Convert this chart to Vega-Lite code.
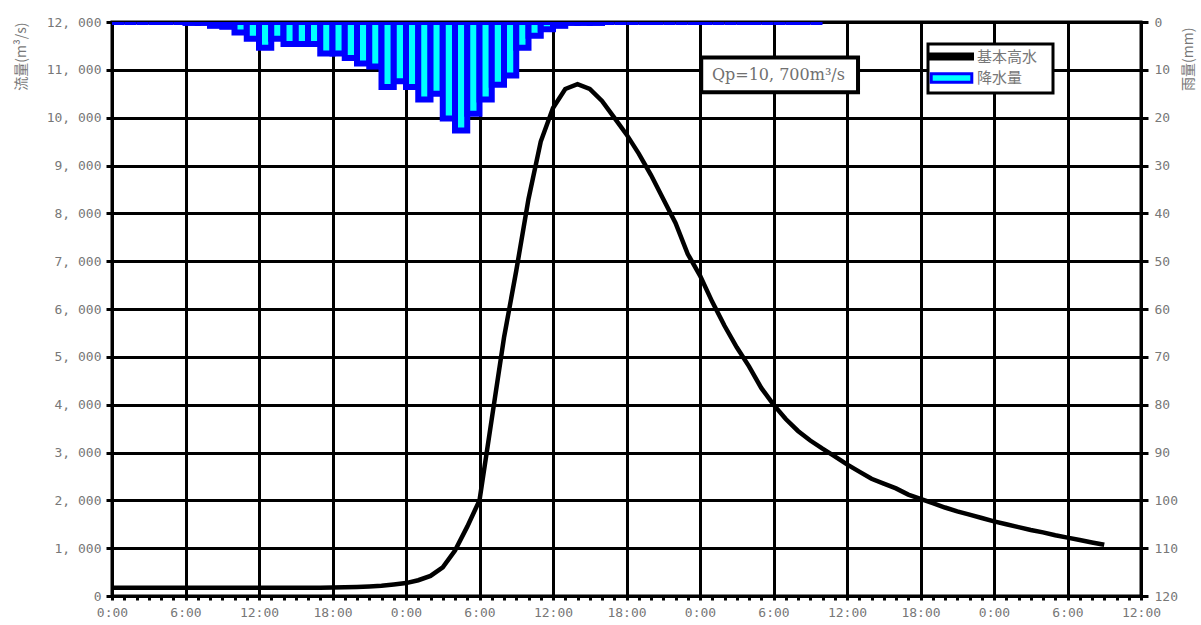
{
  "$schema": "https://vega.github.io/schema/vega-lite/v6.json",
  "width": 1029,
  "height": 574,
  "padding": {"left": 112, "top": 22, "right": 60, "bottom": 29},
  "autosize": {"type": "none"},
  "background": "white",
  "config": {
    "view": {"stroke": "black", "strokeWidth": 3},
    "axis": {"labelFont": "DejaVu Sans Mono", "labelFontSize": 13, "labelColor": "#777777", "titleFont": "Noto Sans CJK JP", "titleFontSize": 14, "titleFontWeight": "normal", "titleColor": "#777777", "domainColor": "black", "domainWidth": 3, "tickColor": "black", "tickWidth": 3}
  },
  "datasets": {
    "rain": [
      {"t0": 0, "t1": 1, "rain": 0}, {"t0": 1, "t1": 2, "rain": 0}, {"t0": 2, "t1": 3, "rain": 0}, {"t0": 3, "t1": 4, "rain": 0},
      {"t0": 4, "t1": 5, "rain": 0}, {"t0": 5, "t1": 6, "rain": 0}, {"t0": 6, "t1": 7, "rain": 0.2}, {"t0": 7, "t1": 8, "rain": 0.2},
      {"t0": 8, "t1": 9, "rain": 0.8}, {"t0": 9, "t1": 10, "rain": 1.0}, {"t0": 10, "t1": 11, "rain": 2.2}, {"t0": 11, "t1": 12, "rain": 3.5},
      {"t0": 12, "t1": 13, "rain": 5.4}, {"t0": 13, "t1": 14, "rain": 3.5}, {"t0": 14, "t1": 15, "rain": 4.6}, {"t0": 15, "t1": 16, "rain": 4.6},
      {"t0": 16, "t1": 17, "rain": 4.6}, {"t0": 17, "t1": 18, "rain": 6.6}, {"t0": 18, "t1": 19, "rain": 6.6}, {"t0": 19, "t1": 20, "rain": 7.5},
      {"t0": 20, "t1": 21, "rain": 8.7}, {"t0": 21, "t1": 22, "rain": 9.3}, {"t0": 22, "t1": 23, "rain": 13.6}, {"t0": 23, "t1": 24, "rain": 12.4},
      {"t0": 24, "t1": 25, "rain": 13.6}, {"t0": 25, "t1": 26, "rain": 16.2}, {"t0": 26, "t1": 27, "rain": 15.0}, {"t0": 27, "t1": 28, "rain": 20.2},
      {"t0": 28, "t1": 29, "rain": 22.7}, {"t0": 29, "t1": 30, "rain": 19.2}, {"t0": 30, "t1": 31, "rain": 16.2}, {"t0": 31, "t1": 32, "rain": 13.1},
      {"t0": 32, "t1": 33, "rain": 11.2}, {"t0": 33, "t1": 34, "rain": 5.4}, {"t0": 34, "t1": 35, "rain": 2.9}, {"t0": 35, "t1": 36, "rain": 1.5},
      {"t0": 36, "t1": 37, "rain": 0.8}, {"t0": 37, "t1": 38, "rain": 0.2}, {"t0": 38, "t1": 39, "rain": 0.2}, {"t0": 39, "t1": 40, "rain": 0.2},
      {"t0": 40, "t1": 41, "rain": 0}, {"t0": 41, "t1": 42, "rain": 0}, {"t0": 42, "t1": 43, "rain": 0}, {"t0": 43, "t1": 44, "rain": 0},
      {"t0": 44, "t1": 45, "rain": 0}, {"t0": 45, "t1": 46, "rain": 0}, {"t0": 46, "t1": 47, "rain": 0}, {"t0": 47, "t1": 48, "rain": 0},
      {"t0": 48, "t1": 49, "rain": 0}, {"t0": 49, "t1": 50, "rain": 0}, {"t0": 50, "t1": 51, "rain": 0}, {"t0": 51, "t1": 52, "rain": 0},
      {"t0": 52, "t1": 53, "rain": 0}, {"t0": 53, "t1": 54, "rain": 0}, {"t0": 54, "t1": 55, "rain": 0}, {"t0": 55, "t1": 56, "rain": 0},
      {"t0": 56, "t1": 57, "rain": 0}, {"t0": 57, "t1": 58, "rain": 0}
    ],
    "flow": [
      {"t": 0, "q": 170}, {"t": 1, "q": 170}, {"t": 2, "q": 170}, {"t": 3, "q": 170}, {"t": 4, "q": 170}, {"t": 5, "q": 170},
      {"t": 6, "q": 170}, {"t": 7, "q": 170}, {"t": 8, "q": 170}, {"t": 9, "q": 170}, {"t": 10, "q": 170}, {"t": 11, "q": 170},
      {"t": 12, "q": 170}, {"t": 13, "q": 170}, {"t": 14, "q": 170}, {"t": 15, "q": 170}, {"t": 16, "q": 170}, {"t": 17, "q": 175},
      {"t": 18, "q": 180}, {"t": 19, "q": 185}, {"t": 20, "q": 190}, {"t": 21, "q": 200}, {"t": 22, "q": 215}, {"t": 23, "q": 240},
      {"t": 24, "q": 270}, {"t": 25, "q": 330}, {"t": 26, "q": 420}, {"t": 27, "q": 600}, {"t": 28, "q": 950}, {"t": 29, "q": 1450},
      {"t": 30, "q": 2000}, {"t": 31, "q": 3700}, {"t": 32, "q": 5400}, {"t": 33, "q": 6800}, {"t": 34, "q": 8300}, {"t": 35, "q": 9500},
      {"t": 36, "q": 10200}, {"t": 37, "q": 10600}, {"t": 38, "q": 10700}, {"t": 39, "q": 10600}, {"t": 40, "q": 10350}, {"t": 41, "q": 10000},
      {"t": 42, "q": 9650}, {"t": 43, "q": 9250}, {"t": 44, "q": 8800}, {"t": 45, "q": 8300}, {"t": 46, "q": 7800}, {"t": 47, "q": 7150},
      {"t": 48, "q": 6700}, {"t": 49, "q": 6150}, {"t": 50, "q": 5650}, {"t": 51, "q": 5200}, {"t": 52, "q": 4800}, {"t": 53, "q": 4350},
      {"t": 54, "q": 4000}, {"t": 55, "q": 3700}, {"t": 56, "q": 3450}, {"t": 57, "q": 3250}, {"t": 58, "q": 3080}, {"t": 59, "q": 2920},
      {"t": 60, "q": 2750}, {"t": 61, "q": 2600}, {"t": 62, "q": 2450}, {"t": 63, "q": 2350}, {"t": 64, "q": 2250}, {"t": 65, "q": 2120},
      {"t": 66, "q": 2030}, {"t": 67, "q": 1940}, {"t": 68, "q": 1850}, {"t": 69, "q": 1770}, {"t": 70, "q": 1700}, {"t": 71, "q": 1630},
      {"t": 72, "q": 1560}, {"t": 73, "q": 1500}, {"t": 74, "q": 1440}, {"t": 75, "q": 1380}, {"t": 76, "q": 1330}, {"t": 77, "q": 1270},
      {"t": 78, "q": 1220}, {"t": 79, "q": 1170}, {"t": 80, "q": 1120}, {"t": 81, "q": 1070}
    ],
    "note": [{"label": "Qp=10, 700m³/s", "t": 54.4, "q": 10890}]
  },
  "layer": [
    {
      "data": {"name": "rain"},
      "mark": {"type": "bar", "fill": "#00ffff", "strokeWidth": 6, "clip": true},
      "encoding": {
        "x": {"field": "t0", "type": "quantitative", "scale": {"domain": [0, 84], "nice": false, "zero": false},
          "axis": {"values": [0,1,2,3,4,5,6,7,8,9,10,11,12,13,14,15,16,17,18,19,20,21,22,23,24,25,26,27,28,29,30,31,32,33,34,35,36,37,38,39,40,41,42,43,44,45,46,47,48,49,50,51,52,53,54,55,56,57,58,59,60,61,62,63,64,65,66,67,68,69,70,71,72,73,74,75,76,77,78,79,80,81,82,83,84],
            "tickCount": 200,
            "labelExpr": "datum.value % 6 === 0 ? (datum.value % 24) + ':00' : ''", "labelOverlap": false, "labelFlush": false,
            "grid": true, "gridColor": "black", "gridWidth": 3,
            "gridOpacity": {"condition": {"test": "datum.value % 6 === 0", "value": 1}, "value": 0},
            "tickSize": 4, "labelPadding": 6, "title": null}},
        "x2": {"field": "t1"},
        "y": {"field": "rain", "type": "quantitative", "scale": {"domain": [0, 120], "reverse": true, "nice": false},
          "axis": {"orient": "right", "values": [0, 10, 20, 30, 40, 50, 60, 70, 80, 90, 100, 110, 120], "grid": false, "tickSize": 7, "labelPadding": 6, "title": "雨量(mm)", "titleAngle": -90, "titleAnchor": "start", "titleAlign": "right", "titleY": 5, "titlePadding": 18}},
        "y2": {"datum": 0},
        "stroke": {"datum": "降水量", "type": "nominal", "scale": {"domain": ["基本高水", "降水量"], "range": ["black", "#0000ff"]},
          "legend": {"title": null, "orient": "none", "legendX": 816, "legendY": 22, "padding": 4, "rowPadding": 1.5, "fillColor": "white", "strokeColor": "black",
            "symbolSize": 196, "symbolOffset": 11, "labelOffset": 17, "labelFont": "Noto Sans CJK JP", "labelFontSize": 15, "labelColor": "#777777",
            "labelExpr": "datum.label + '⠀'",
            "encode": {
              "legend": {"update": {"strokeWidth": {"value": 3}}},
              "symbols": {"update": {
                "shape": {"signal": "datum.value === '降水量' ? 'M-2.9,-0.6H2.9V0.6H-2.9Z' : 'M-3,-0.36H3V0.36H-3Z'"},
                "fill": {"signal": "datum.value === '降水量' ? '#00ffff' : 'black'"},
                "strokeWidth": {"value": 3},
                "strokeOpacity": {"value": 1},
                "fillOpacity": {"value": 1},
                "size": {"value": 196},
                "opacity": {"value": 1}
              }}
            }}}
      }
    },
    {
      "data": {"name": "flow"},
      "mark": {"type": "line", "strokeWidth": 4.5},
      "encoding": {
        "x": {"field": "t", "type": "quantitative", "scale": {"domain": [0, 84], "nice": false, "zero": false},
          "axis": {"values": [0,1,2,3,4,5,6,7,8,9,10,11,12,13,14,15,16,17,18,19,20,21,22,23,24,25,26,27,28,29,30,31,32,33,34,35,36,37,38,39,40,41,42,43,44,45,46,47,48,49,50,51,52,53,54,55,56,57,58,59,60,61,62,63,64,65,66,67,68,69,70,71,72,73,74,75,76,77,78,79,80,81,82,83,84],
            "tickCount": 200,
            "labelExpr": "datum.value % 6 === 0 ? (datum.value % 24) + ':00' : ''", "labelOverlap": false, "labelFlush": false,
            "grid": true, "gridColor": "black", "gridWidth": 3,
            "gridOpacity": {"condition": {"test": "datum.value % 6 === 0", "value": 1}, "value": 0},
            "tickSize": 4, "labelPadding": 6, "title": null}},
        "y": {"field": "q", "type": "quantitative", "scale": {"domain": [0, 12000], "nice": false},
          "axis": {"orient": "left", "values": [0,1000,2000,3000,4000,5000,6000,7000,8000,9000,10000,11000,12000],
            "labelExpr": "replace(format(datum.value, ','), ',', ', ')", "grid": true, "gridColor": "black", "gridWidth": 3,
            "tickSize": 6, "labelPadding": 5, "title": "流量(m³/s)", "titleAnchor": "end", "titlePadding": 18}},
        "stroke": {"datum": "基本高水", "type": "nominal",
          "legend": {"title": null, "orient": "none", "legendX": 816, "legendY": 22, "padding": 4, "rowPadding": 1.5, "fillColor": "white", "strokeColor": "black",
            "symbolSize": 196, "symbolOffset": 11, "labelOffset": 17, "labelFont": "Noto Sans CJK JP", "labelFontSize": 15, "labelColor": "#777777",
            "labelExpr": "datum.label + '⠀'",
            "encode": {
              "legend": {"update": {"strokeWidth": {"value": 3}}},
              "symbols": {"update": {
                "shape": {"signal": "datum.value === '降水量' ? 'M-2.9,-0.6H2.9V0.6H-2.9Z' : 'M-3,-0.36H3V0.36H-3Z'"},
                "fill": {"signal": "datum.value === '降水量' ? '#00ffff' : 'black'"},
                "strokeWidth": {"value": 3},
                "strokeOpacity": {"value": 1},
                "fillOpacity": {"value": 1},
                "size": {"value": 196},
                "opacity": {"value": 1}
              }}
            }}}
      }
    },
    {
      "data": {"name": "note"},
      "mark": {"type": "rect", "fill": "white", "stroke": "black", "strokeWidth": 4},
      "encoding": {
        "x": {"datum": 48.1, "type": "quantitative", "scale": {"domain": [0, 84], "nice": false, "zero": false}},
        "x2": {"datum": 60.9},
        "y": {"datum": 11260, "type": "quantitative", "scale": {"domain": [0, 12000], "nice": false}, "axis": null},
        "y2": {"datum": 10530}
      }
    },
    {
      "data": {"name": "note"},
      "mark": {"type": "text", "font": "DejaVu Serif", "fontSize": 16, "color": "#707070", "align": "center", "baseline": "middle"},
      "encoding": {
        "x": {"field": "t", "type": "quantitative", "scale": {"domain": [0, 84], "nice": false, "zero": false}},
        "y": {"field": "q", "type": "quantitative", "scale": {"domain": [0, 12000], "nice": false}, "axis": null},
        "text": {"field": "label"}
      }
    }
  ],
  "resolve": {"scale": {"y": "independent"}}
}
